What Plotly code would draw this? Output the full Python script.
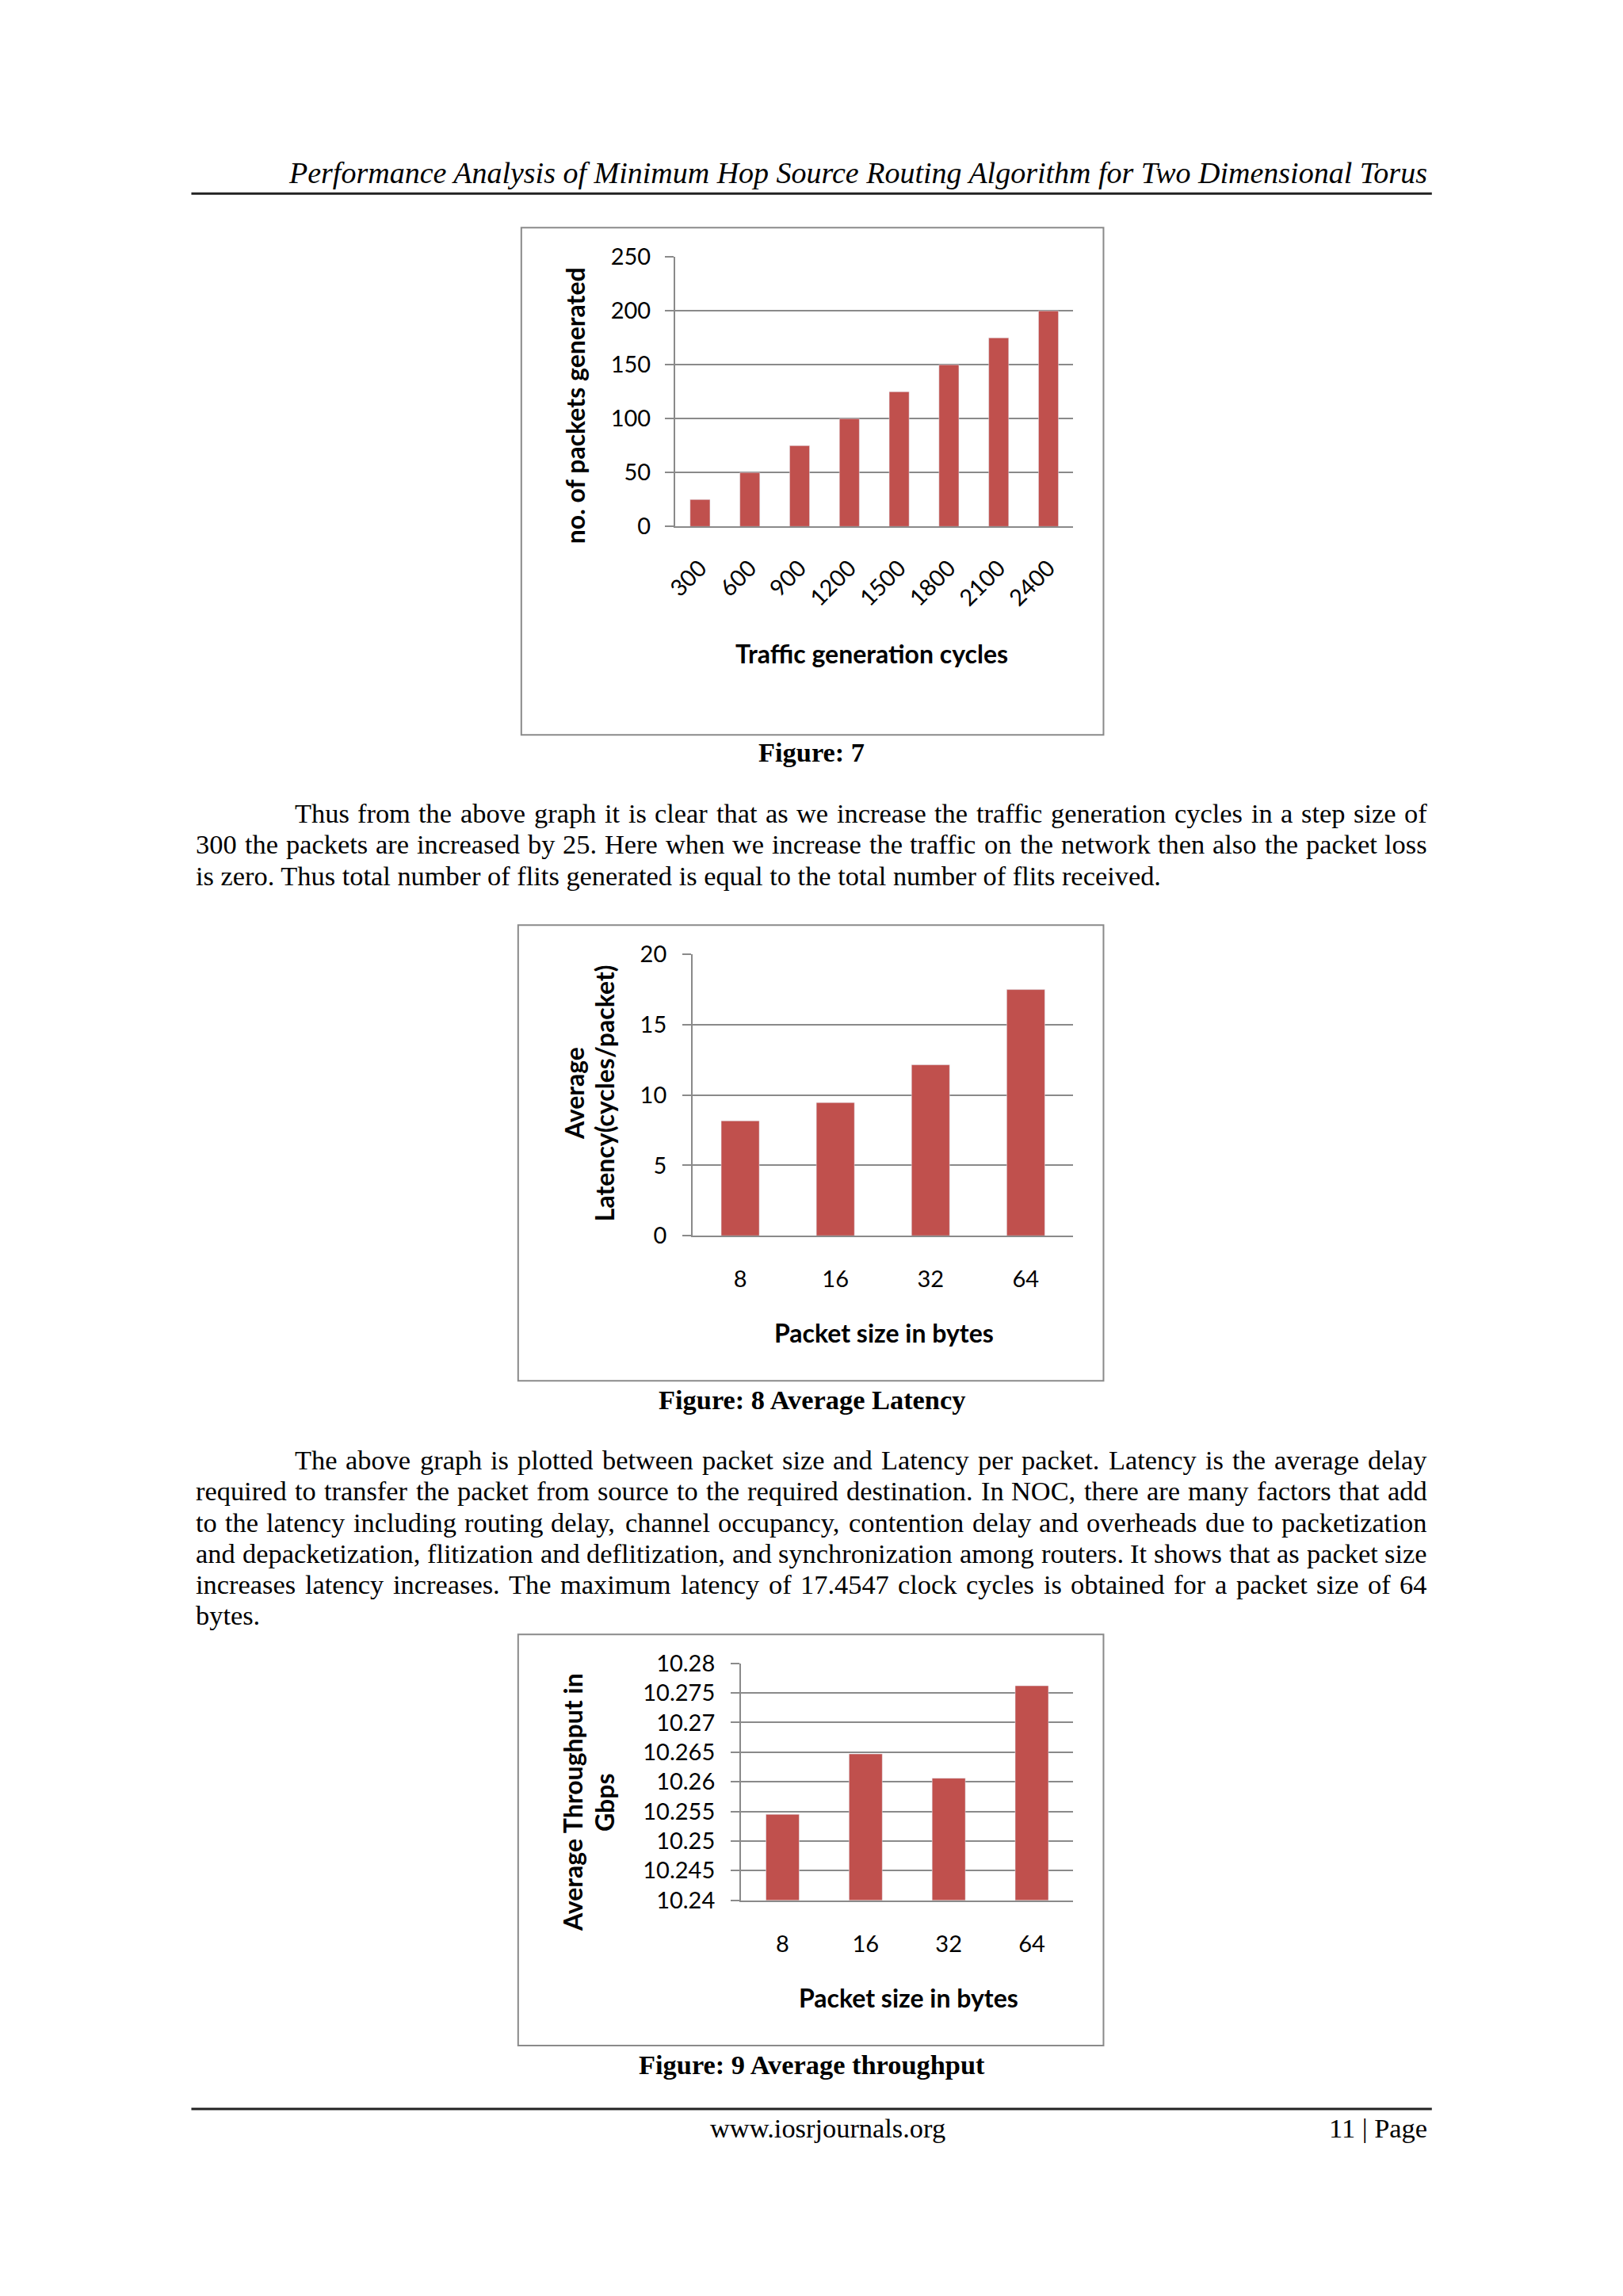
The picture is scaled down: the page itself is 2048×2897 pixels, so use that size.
import plotly.graph_objects as go

# ---------------- data ----------------
cycles = ["300", "600", "900", "1200", "1500", "1800", "2100", "2400"]
packets = [25, 50, 75, 100, 125, 150, 175, 200]

packet_sizes = ["8", "16", "32", "64"]
latency = [8.17, 9.47, 12.15, 17.5]
throughput = [10.2545, 10.2647, 10.2606, 10.2762]

thr_ticks = [10.24, 10.245, 10.25, 10.255, 10.26, 10.265, 10.27, 10.275, 10.28]
thr_labels = ["10.24", "10.245", "10.25", "10.255", "10.26", "10.265", "10.27", "10.275", "10.28"]

header = "Performance Analysis of Minimum Hop Source Routing Algorithm for Two Dimensional Torus"
para1 = [
    "Thus from the above graph it is clear that as we increase the traffic generation cycles in a step size of",
    "300 the packets are increased by 25. Here when we increase the traffic on the network then also the packet loss",
    "is zero. Thus total number of flits generated is equal to the total number of flits received.",
]
para2 = [
    "The above graph is plotted between packet size and Latency per packet. Latency is the average delay",
    "required to transfer the packet from source to the required destination. In NOC, there are many factors that add",
    "to the latency including routing delay, channel occupancy, contention delay and overheads due to packetization",
    "and depacketization, flitization and deflitization, and synchronization among routers. It shows that as packet size",
    "increases latency increases. The maximum latency of 17.4547 clock cycles is obtained for a packet size of 64",
    "bytes.",
]

# ---------------- page geometry ----------------
PAGE_W, PAGE_H = 2048, 2897
OFF = 8                      # default body margin of the html page
FW, FH = PAGE_W - 2 * OFF, PAGE_H - 2 * OFF - 1
# small correction for how the page ends up in the photograph
SX, BX = 1.0078, -14.9
SY, BY = 1.0122, -17.95
BAR = "#C0504D"
GRID = "#8A8A8A"
CHART_FONT = "Lato, 'Open Sans', sans-serif"
SERIF = "'Liberation Serif', 'Times New Roman', serif"
BODY = 34.4

# Times (Liberation Serif metric) advance widths, 1/1000 em
TIMES = {' ': 250, '!': 333, ',': 250, '-': 333, '.': 250, '/': 278, ':': 278, ';': 278, '(': 333, ')': 333,
         '0': 500, '1': 500, '2': 500, '3': 500, '4': 500, '5': 500, '6': 500, '7': 500, '8': 500, '9': 500,
         'A': 722, 'B': 667, 'C': 667, 'D': 722, 'E': 611, 'F': 556, 'G': 722, 'H': 722, 'I': 333, 'J': 389,
         'K': 722, 'L': 611, 'M': 889, 'N': 722, 'O': 722, 'P': 556, 'Q': 722, 'R': 667, 'S': 556, 'T': 611,
         'U': 722, 'V': 722, 'W': 944, 'X': 722, 'Y': 722, 'Z': 611,
         'a': 444, 'b': 500, 'c': 444, 'd': 500, 'e': 444, 'f': 333, 'g': 500, 'h': 500, 'i': 278, 'j': 278,
         'k': 500, 'l': 278, 'm': 778, 'n': 500, 'o': 500, 'p': 500, 'q': 500, 'r': 333, 's': 389, 't': 278,
         'u': 500, 'v': 500, 'w': 722, 'x': 500, 'y': 500, 'z': 444}


def tw(s, size):
    return sum(TIMES.get(c, 500) for c in s) / 1000.0 * size * SX


def px(x):
    return (SX * x + BX - OFF) / FW


def py(y):
    return 1 - (SY * y + BY - OFF) / FH


fig = go.Figure()
fig.add_trace(go.Bar(x=cycles, y=packets, marker_color=BAR, xaxis="x", yaxis="y", showlegend=False))
fig.add_trace(go.Bar(x=packet_sizes, y=latency, marker_color=BAR, xaxis="x2", yaxis="y2", showlegend=False))
fig.add_trace(go.Bar(x=packet_sizes, y=throughput, marker_color=BAR, xaxis="x3", yaxis="y3", showlegend=False))

tick_font = dict(family=CHART_FONT, size=29, color="black")


def xax(dom, anchor, angle=0, standoff=30):
    return dict(domain=dom, anchor=anchor, type="category", showline=True, linecolor=GRID, linewidth=2,
                ticks="", showgrid=False, tickfont=tick_font, tickangle=angle, ticklabelstandoff=standoff,
                fixedrange=True)


def yax(dom, anchor, rng, dtick=None, tickvals=None, ticktext=None, standoff=12):
    d = dict(domain=dom, anchor=anchor, range=rng, showline=True, linecolor=GRID, linewidth=2,
             showgrid=True, gridcolor=GRID, gridwidth=2, zeroline=False, ticks="outside", ticklen=11,
             tickcolor=GRID, tickwidth=2, tickfont=tick_font, ticklabelstandoff=standoff, fixedrange=True)
    if dtick is not None:
        d.update(tick0=0, dtick=dtick)
    if tickvals is not None:
        d.update(tickmode="array", tickvals=tickvals, ticktext=ticktext)
    return d


fig.update_layout(
    xaxis=xax([px(852), px(1354)], "y", angle=-45, standoff=22),
    yaxis=yax([py(663), py(323)], "x", [0, 250], dtick=50, standoff=12),
    xaxis2=xax([px(874), px(1354)], "y2", standoff=28),
    yaxis2=yax([py(1558), py(1203)], "x2", [0, 20], dtick=5, standoff=14),
    xaxis3=xax([px(935), px(1354)], "y3", standoff=29),
    yaxis3=yax([py(2396.5), py(2097.5)], "x3", [thr_ticks[0], thr_ticks[-1]],
               tickvals=thr_ticks, ticktext=thr_labels, standoff=14),
)

ann = []


def text(x, y, s, size=BODY, xanchor="left", family=SERIF, bold=False, angle=0):
    ann.append(dict(x=px(x), y=py(y), xref="paper", yref="paper", text=("<b>%s</b>" % s) if bold else s,
                    showarrow=False, xanchor=xanchor, yanchor="middle", textangle=angle,
                    borderpad=0, borderwidth=0,
                    font=dict(family=family, size=size, color="black")))


def paragraph(lines, centers, left=248, indent=372, right=1800, size=BODY):
    for i, (line, yc) in enumerate(zip(lines, centers)):
        x0 = indent if i == 0 else left
        last = i == len(lines) - 1
        words = line.split(" ")
        if last or len(words) < 2:
            text(x0, yc, line, size=size)
            continue
        natural = sum(tw(w, size) for w in words) / SX
        gap = (right - x0 - natural) / (len(words) - 1)
        x = x0
        for w in words:
            text(x, yc, w, size=size)
            x += tw(w, size) / SX + gap


# header / footer
text(1800, 217, "<i>%s</i>" % header, size=38, xanchor="right")
text(1044, 2684, "www.iosrjournals.org", xanchor="center")
text(1800, 2684, "11 | Page", xanchor="right")

# axis titles (charts)
TS = 32
text(725, 510, "no. of packets generated", size=TS, xanchor="center", family=CHART_FONT, bold=True, angle=-90)
text(1100, 823, "Traffic generation cycles", size=TS, xanchor="center", family=CHART_FONT, bold=True)
text(724, 1378, "Average", size=TS, xanchor="center", family=CHART_FONT, bold=True, angle=-90)
text(762, 1378, "Latency(cycles/packet)", size=TS, xanchor="center", family=CHART_FONT, bold=True, angle=-90)
text(1115, 1680, "Packet size in bytes", size=TS, xanchor="center", family=CHART_FONT, bold=True)
text(722, 2273, "Average Throughput in", size=TS, xanchor="center", family=CHART_FONT, bold=True, angle=-90)
text(762, 2273, "Gbps", size=TS, xanchor="center", family=CHART_FONT, bold=True, angle=-90)
text(1146, 2519, "Packet size in bytes", size=TS, xanchor="center", family=CHART_FONT, bold=True)

# captions
text(1024, 948, "Figure: 7", xanchor="center", bold=True)
text(1024, 1765, "Figure: 8 Average Latency", xanchor="center", bold=True)
text(1024, 2604, "Figure: 9 Average throughput", xanchor="center", bold=True)

# paragraphs
paragraph(para1, [1025, 1064, 1104])
paragraph(para2, [1841, 1880, 1920, 1959, 1998, 2037])

shapes = []


def rect(x0, y0, x1, y1):
    shapes.append(dict(type="rect", xref="paper", yref="paper", x0=px(x0), x1=px(x1), y0=py(y1), y1=py(y0),
                       line=dict(color="#8A8A8A", width=2), fillcolor="rgba(0,0,0,0)"))


def hline(x0, x1, y, w=3):
    shapes.append(dict(type="line", xref="paper", yref="paper", x0=px(x0), x1=px(x1), y0=py(y), y1=py(y),
                       line=dict(color="#222222", width=w)))


rect(658, 286, 1392, 926)
rect(654, 1166, 1392, 1741)
rect(654, 2061, 1392, 2580)
hline(242, 1806, 243)
hline(242, 1806, 2660)

fig.update_layout(
    width=FW, height=FH, margin=dict(l=0, r=0, t=0, b=0, pad=0),
    paper_bgcolor="white", plot_bgcolor="white", bargap=0.6,
    annotations=ann, shapes=shapes, showlegend=False,
)

fig.write_html("out.html", config={"displayModeBar": False})
